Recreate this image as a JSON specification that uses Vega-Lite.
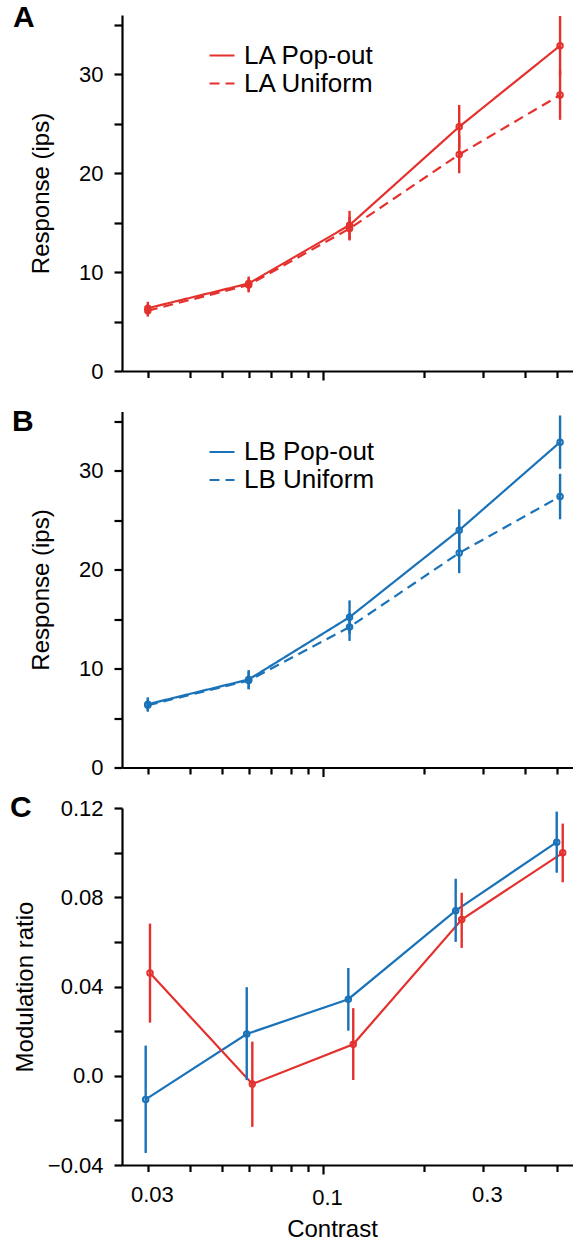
{
  "$schema": "https://vega.github.io/schema/vega-lite/v6.json",
  "padding": {"left": 10, "top": 2, "right": 0, "bottom": 0},
  "background": "white",
  "bounds": "flush",
  "spacing": 40.5,
  "config": {
    "font": "Liberation Sans",
    "view": {"stroke": null},
    "axis": {
      "grid": false,
      "domainColor": "black",
      "domainWidth": 2.2,
      "tickColor": "black",
      "tickWidth": 2.2,
      "labelFont": "Liberation Sans",
      "labelFontSize": 22,
      "labelColor": "black",
      "titleFont": "Liberation Sans",
      "titleFontSize": 24,
      "titleFontWeight": "normal",
      "titleColor": "black"
    }
  },
  "datasets": {
    "resp": [
      {"panel": "A", "series": "LA", "cond": "LA Pop-out", "contrast": 0.03, "value": 6.35, "lo": 5.7, "hi": 7.0},
      {"panel": "A", "series": "LA", "cond": "LA Pop-out", "contrast": 0.06, "value": 8.85, "lo": 8.05, "hi": 9.55},
      {"panel": "A", "series": "LA", "cond": "LA Pop-out", "contrast": 0.12, "value": 14.75, "lo": 13.3, "hi": 16.2},
      {"panel": "A", "series": "LA", "cond": "LA Pop-out", "contrast": 0.255, "value": 24.7, "lo": 22.5, "hi": 26.9},
      {"panel": "A", "series": "LA", "cond": "LA Pop-out", "contrast": 0.51, "value": 32.9, "lo": 29.9, "hi": 35.9},
      {"panel": "A", "series": "LA", "cond": "LA Uniform", "contrast": 0.03, "value": 6.1, "lo": 5.5, "hi": 6.7},
      {"panel": "A", "series": "LA", "cond": "LA Uniform", "contrast": 0.06, "value": 8.7, "lo": 7.95, "hi": 9.4},
      {"panel": "A", "series": "LA", "cond": "LA Uniform", "contrast": 0.12, "value": 14.4, "lo": 13.2, "hi": 15.6},
      {"panel": "A", "series": "LA", "cond": "LA Uniform", "contrast": 0.255, "value": 21.9, "lo": 20.0, "hi": 23.8},
      {"panel": "A", "series": "LA", "cond": "LA Uniform", "contrast": 0.51, "value": 27.9, "lo": 25.4, "hi": 30.4},
      {"panel": "B", "series": "LB", "cond": "LB Pop-out", "contrast": 0.03, "value": 6.4, "lo": 5.7, "hi": 7.1},
      {"panel": "B", "series": "LB", "cond": "LB Pop-out", "contrast": 0.06, "value": 8.9, "lo": 7.95, "hi": 9.85},
      {"panel": "B", "series": "LB", "cond": "LB Pop-out", "contrast": 0.12, "value": 15.2, "lo": 13.5, "hi": 16.9},
      {"panel": "B", "series": "LB", "cond": "LB Pop-out", "contrast": 0.255, "value": 24.0, "lo": 21.9, "hi": 26.1},
      {"panel": "B", "series": "LB", "cond": "LB Pop-out", "contrast": 0.51, "value": 32.9, "lo": 30.2, "hi": 35.6},
      {"panel": "B", "series": "LB", "cond": "LB Uniform", "contrast": 0.03, "value": 6.3, "lo": 5.65, "hi": 6.95},
      {"panel": "B", "series": "LB", "cond": "LB Uniform", "contrast": 0.06, "value": 8.8, "lo": 7.9, "hi": 9.7},
      {"panel": "B", "series": "LB", "cond": "LB Uniform", "contrast": 0.12, "value": 14.2, "lo": 12.8, "hi": 15.6},
      {"panel": "B", "series": "LB", "cond": "LB Uniform", "contrast": 0.255, "value": 21.7, "lo": 19.65, "hi": 23.75},
      {"panel": "B", "series": "LB", "cond": "LB Uniform", "contrast": 0.51, "value": 27.4, "lo": 25.1, "hi": 29.7}
    ],
    "ratio": [
      {"series": "LB", "contrast": 0.02956, "value": -0.0106, "lo": -0.0346, "hi": 0.0135},
      {"series": "LB", "contrast": 0.0592, "value": 0.0187, "lo": -0.0019, "hi": 0.0397},
      {"series": "LB", "contrast": 0.119, "value": 0.0343, "lo": 0.0202, "hi": 0.0483},
      {"series": "LB", "contrast": 0.2489, "value": 0.074, "lo": 0.06, "hi": 0.0883},
      {"series": "LB", "contrast": 0.4984, "value": 0.1047, "lo": 0.091, "hi": 0.1184},
      {"series": "LA", "contrast": 0.03045, "value": 0.046, "lo": 0.0238, "hi": 0.0682},
      {"series": "LA", "contrast": 0.06152, "value": -0.0037, "lo": -0.0229, "hi": 0.0153},
      {"series": "LA", "contrast": 0.1231, "value": 0.0141, "lo": -0.0019, "hi": 0.0303},
      {"series": "LA", "contrast": 0.2594, "value": 0.07, "lo": 0.0573, "hi": 0.082},
      {"series": "LA", "contrast": 0.5194, "value": 0.0999, "lo": 0.0867, "hi": 0.113}
    ]
  },
  "resolve": {"scale": {"strokeDash": "independent", "color": "independent", "y": "independent"}},
  "vconcat": [
    {
      "width": 451, "height": 356,
      "title": {"text": "A", "anchor": "start", "frame": "group", "orient": "top", "fontSize": 30, "fontWeight": "bold", "baseline": "top", "offset": 0, "dx": -109, "dy": 18, "color": "black", "font": "Liberation Sans"},
      "data": {"name": "resp"},
      "transform": [{"filter": "datum.panel === 'A'"}],
      "encoding": {
        "x": {"field": "contrast", "type": "quantitative",
          "scale": {"type": "log", "domain": [0.02512, 0.5574], "nice": false},
          "axis": {"values": [0.03, 0.04, 0.05, 0.06, 0.07, 0.08, 0.09, 0.1, 0.2, 0.3, 0.4, 0.5], "labels": false, "title": null,
            "tickSize": {"condition": {"test": "datum.value === 0.1", "value": 9}, "value": 6.5}}},
        "color": {"field": "series", "type": "nominal", "scale": {"domain": ["LA", "LB"], "range": ["#e4312d", "#1a72b8"]}, "legend": null}
      },
      "layer": [
        {"mark": {"type": "line", "strokeWidth": 2.2},
          "encoding": {
            "y": {"field": "value", "type": "quantitative", "scale": {"domain": [0, 36], "nice": false},
              "axis": {"values": [0, 5, 10, 15, 20, 25, 30, 35], "labelExpr": "datum.value % 10 === 0 ? datum.label : ''", "tickSize": 8, "labelPadding": 11, "title": "Response (ips)", "titlePadding": 25}},
            "strokeDash": {"field": "cond", "type": "nominal", "scale": {"domain": ["LA Pop-out", "LA Uniform"], "range": [[1, 0], [10, 6]]},
              "legend": {"orient": "none", "legendX": 86, "legendY": 26.5, "title": null, "symbolType": "stroke", "symbolSize": 625, "symbolStrokeWidth": 2.2, "symbolStrokeColor": "#e4312d", "labelFontSize": 26, "labelFont": "Liberation Sans", "labelColor": "black", "labelOffset": 8, "rowPadding": 1, "padding": 0, "labelLimit": 300,
                "encode": {"symbols": {"update": {"strokeDash": {"signal": "datum.value === 'LA Uniform' ? [5, 4] : [1, 0]"}}}}}}
          }},
        {"mark": {"type": "rule", "strokeWidth": 2.4},
          "encoding": {"y": {"field": "lo", "type": "quantitative", "title": "Response (ips)"}, "y2": {"field": "hi"}, "detail": {"field": "cond"}}},
        {"mark": {"type": "point", "filled": false, "strokeWidth": 2, "size": 30, "opacity": 1},
          "encoding": {"y": {"field": "value", "type": "quantitative", "title": "Response (ips)"}, "detail": {"field": "cond"}}}
      ]
    },
    {
      "width": 451, "height": 356,
      "title": {"text": "B", "anchor": "start", "frame": "group", "orient": "top", "fontSize": 30, "fontWeight": "bold", "baseline": "top", "offset": 0, "dx": -110, "dy": 25.3, "color": "black", "font": "Liberation Sans"},
      "data": {"name": "resp"},
      "transform": [{"filter": "datum.panel === 'B'"}],
      "encoding": {
        "x": {"field": "contrast", "type": "quantitative",
          "scale": {"type": "log", "domain": [0.02512, 0.5574], "nice": false},
          "axis": {"values": [0.03, 0.04, 0.05, 0.06, 0.07, 0.08, 0.09, 0.1, 0.2, 0.3, 0.4, 0.5], "labels": false, "title": null,
            "tickSize": {"condition": {"test": "datum.value === 0.1", "value": 9}, "value": 6.5}}},
        "color": {"field": "series", "type": "nominal", "scale": {"domain": ["LA", "LB"], "range": ["#e4312d", "#1a72b8"]}, "legend": null}
      },
      "layer": [
        {"mark": {"type": "line", "strokeWidth": 2.2},
          "encoding": {
            "y": {"field": "value", "type": "quantitative", "scale": {"domain": [0, 36], "nice": false},
              "axis": {"values": [0, 5, 10, 15, 20, 25, 30, 35], "labelExpr": "datum.value % 10 === 0 ? datum.label : ''", "tickSize": 8, "labelPadding": 11, "title": "Response (ips)", "titlePadding": 25}},
            "strokeDash": {"field": "cond", "type": "nominal", "scale": {"domain": ["LB Pop-out", "LB Uniform"], "range": [[1, 0], [10, 6]]},
              "legend": {"orient": "none", "legendX": 86, "legendY": 26.5, "title": null, "symbolType": "stroke", "symbolSize": 625, "symbolStrokeWidth": 2.2, "symbolStrokeColor": "#1a72b8", "labelFontSize": 26, "labelFont": "Liberation Sans", "labelColor": "black", "labelOffset": 8, "rowPadding": 1, "padding": 0, "labelLimit": 300,
                "encode": {"symbols": {"update": {"strokeDash": {"signal": "datum.value === 'LB Uniform' ? [5, 4] : [1, 0]"}}}}}}
          }},
        {"mark": {"type": "rule", "strokeWidth": 2.4},
          "encoding": {"y": {"field": "lo", "type": "quantitative", "title": "Response (ips)"}, "y2": {"field": "hi"}, "detail": {"field": "cond"}}},
        {"mark": {"type": "point", "filled": false, "strokeWidth": 2, "size": 30, "opacity": 1},
          "encoding": {"y": {"field": "value", "type": "quantitative", "title": "Response (ips)"}, "detail": {"field": "cond"}}}
      ]
    },
    {
      "width": 451, "height": 357,
      "title": {"text": "C", "anchor": "start", "frame": "group", "orient": "top", "fontSize": 30, "fontWeight": "bold", "baseline": "top", "offset": 0, "dx": -112, "dy": 25.7, "color": "black", "font": "Liberation Sans"},
      "data": {"name": "ratio"},
      "encoding": {
        "x": {"field": "contrast", "type": "quantitative",
          "scale": {"type": "log", "domain": [0.02512, 0.5574], "nice": false},
          "axis": {"values": [0.03, 0.04, 0.05, 0.06, 0.07, 0.08, 0.09, 0.1, 0.2, 0.3, 0.4, 0.5], "title": "Contrast",
            "labelExpr": "datum.value === 0.03 ? '0.03' : datum.value === 0.1 ? '0.1' : datum.value === 0.3 ? '0.3' : ''",
            "labelOffset": 4, "labelPadding": 13, "titlePadding": 9, "titleX": 210,
            "tickSize": {"condition": {"test": "datum.value === 0.1", "value": 9}, "value": 6.5}}},
        "color": {"field": "series", "type": "nominal", "scale": {"domain": ["LA", "LB"], "range": ["#e4312d", "#1a72b8"]}, "legend": null}
      },
      "layer": [
        {"mark": {"type": "line", "strokeWidth": 2.2},
          "encoding": {
            "y": {"field": "value", "type": "quantitative", "scale": {"domain": [-0.04, 0.12], "nice": false},
              "axis": {"values": [-0.04, -0.02, 0, 0.02, 0.04, 0.06, 0.08, 0.1, 0.12],
                "labelExpr": "datum.value === -0.04 ? '−0.04' : datum.value === 0 ? '0.0' : datum.value === 0.04 ? '0.04' : datum.value === 0.08 ? '0.08' : datum.value === 0.12 ? '0.12' : ''",
                "tickSize": 8, "labelPadding": 11, "title": "Modulation ratio", "titlePadding": 10}}
          }},
        {"mark": {"type": "rule", "strokeWidth": 2.4},
          "encoding": {"y": {"field": "lo", "type": "quantitative", "title": "Modulation ratio"}, "y2": {"field": "hi"}}},
        {"mark": {"type": "point", "filled": false, "strokeWidth": 2, "size": 30, "opacity": 1},
          "encoding": {"y": {"field": "value", "type": "quantitative", "title": "Modulation ratio"}}}
      ]
    }
  ]
}
